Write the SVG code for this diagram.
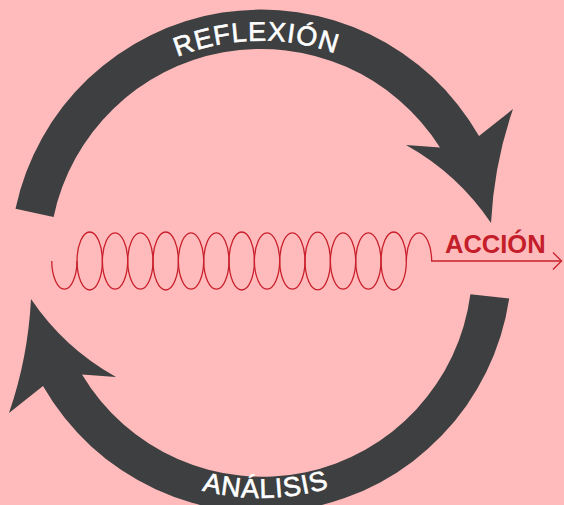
<svg xmlns="http://www.w3.org/2000/svg" width="564" height="505" viewBox="0 0 564 505">
  <style>
    .band { fill: #3d3f41; }
    .lbl { fill: #ffffff; stroke: #ffffff; stroke-width: 0.6px; font-family: "Liberation Sans", Arial, sans-serif; font-size: 27px; letter-spacing: 1px; }
    .coil { fill: none; stroke: #c8202c; stroke-width: 1.3; }
    .act { fill: #c41e2a; font-family: "Liberation Sans", Arial, sans-serif; font-size: 25.5px; font-weight: bold; }
  </style>
  <defs>
    <path id="topArc" d="M68.3,151.5 A223,223 0 0 1 453.7,151.5"/>
    <path id="botArc" d="M55.8,379.5 A237,237 0 0 0 466.2,379.5"/>
  </defs>
  <rect width="564" height="505" fill="#ffbbbb"/>
  <g id="connectors">
    <g id="reflexion">
      <path class="band" d="M15.5,208.8 A251,251 0 0 1 479,136 L513,109 Q494,164 491,223 Q458,174 406,145 L440,147.4 A212,212 0 0 0 53.6,216.9 Z"/>
      <text class="lbl"><textPath href="#topArc" startOffset="49%" text-anchor="middle">REFLEXIÓN</textPath></text>
    </g>
    <g id="analisis">
      <path class="band" d="M509.2,298.5 A251,251 0 0 1 43,386 L9,413 Q28,358 31,299 Q64,348 116,377 L82,374.6 A210,210 0 0 0 470.4,294.2 Z"/>
      <text class="lbl"><textPath href="#botArc" startOffset="51%" text-anchor="middle">ANÁLISIS</textPath></text>
    </g>
  </g>
  <g id="accion">
    <path class="coil" d="M51.7,261 A12.67,29 0 0 0 77.03,261 A12.67,29 0 0 1 102.37,261 A12.67,29 0 0 0 127.7,261 A12.67,29 0 0 1 153.03,261 A12.67,29 0 0 0 178.37,261 A12.67,29 0 0 1 203.7,261 A12.67,29 0 0 0 229.03,261 A12.67,29 0 0 1 254.37,261 A12.67,29 0 0 0 279.7,261 A12.67,29 0 0 1 305.03,261 A12.67,29 0 0 0 330.37,261 A12.67,29 0 0 1 355.7,261 A12.67,29 0 0 0 381.03,261 A12.67,29 0 0 1 406.37,261"/>
    <path class="coil" d="M77.03,261 A12.67,29 0 0 0 102.37,261 A12.67,29 0 0 1 127.7,261 A12.67,29 0 0 0 153.03,261 A12.67,29 0 0 1 178.37,261 A12.67,29 0 0 0 203.7,261 A12.67,29 0 0 1 229.03,261 A12.67,29 0 0 0 254.37,261 A12.67,29 0 0 1 279.7,261 A12.67,29 0 0 0 305.03,261 A12.67,29 0 0 1 330.37,261 A12.67,29 0 0 0 355.7,261 A12.67,29 0 0 1 381.03,261 A12.67,29 0 0 0 406.37,261 A12.67,29 0 0 1 431.7,261 L561.5,261"/>
    <path class="coil" d="M553,252.5 L561.5,261 L553,269.5"/>
    <text class="act" x="445" y="253">ACCIÓN</text>
  </g>
</svg>
